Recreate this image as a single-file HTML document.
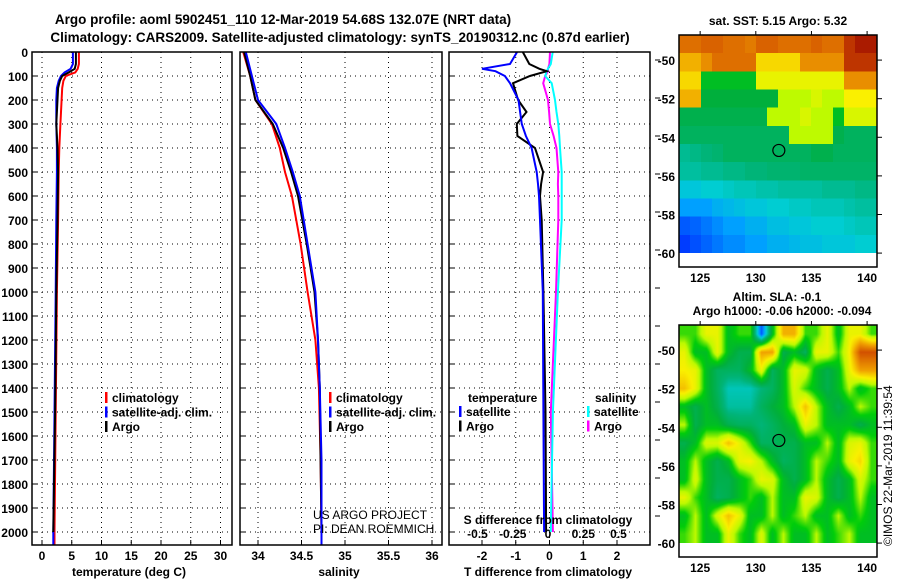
<!DOCTYPE html>
<html><head><meta charset="utf-8">
<style>
body{margin:0;background:#fff;width:900px;height:580px;overflow:hidden;position:relative;font-family:"Liberation Sans",sans-serif}
svg{position:absolute;left:0;top:0}
canvas{position:absolute}
</style></head>
<body>
<canvas id="sst" width="18" height="12" style="left:679px;top:35px;width:198px;height:218px;image-rendering:pixelated"></canvas>
<canvas id="sla" width="198" height="218" style="left:679px;top:325px;width:198px;height:218px"></canvas>
<svg id="chart" width="900" height="580"></svg>
<script>
// ---- data ----
const tempDepths=[0,50,70,85,100,120,150,200,300,400,500,700,1000,1500,2000,2054];
const tempClim=[6.2,6.2,6.0,5.6,4.0,3.6,3.4,3.3,3.1,2.9,2.8,2.7,2.5,2.3,2.1,2.1];
const tempSat=[5.2,5.2,4.8,3.8,3.2,2.8,2.5,2.4,2.4,2.5,2.5,2.4,2.3,2.1,1.9,1.9];
const tempArgo=[5.7,5.7,5.5,4.5,3.4,3.0,2.7,2.6,2.4,2.6,2.7,2.6,2.4,2.2,1.9];
const salDepths=[0,100,200,300,400,500,600,800,1000,1200,1400,1700,2000,2054];
const salClim=[33.83,33.91,33.97,34.16,34.25,34.31,34.39,34.49,34.57,34.66,34.70,34.72,34.73,34.73];
const salSat=[33.86,33.93,34.0,34.21,34.31,34.40,34.48,34.57,34.66,34.69,34.71,34.73,34.73,34.73];
const salArgo=[33.84,33.91,33.97,34.17,34.29,34.38,34.46,34.56,34.65,34.69,34.71,34.72,34.73];
const diffDepths=[0,50,70,80,100,130,200,250,300,350,400,500,550,600,700,1000,1500,2000];
const dTArgo=[-0.79,-0.6,-0.3,-0.08,-0.58,-1.08,-0.93,-0.68,-0.97,-0.95,-0.43,-0.19,-0.25,-0.28,-0.23,-0.18,-0.12,-0.1];
const dTSat=[-0.96,-1.17,-2.0,-1.6,-1.32,-1.17,-0.92,-0.87,-0.82,-0.7,-0.53,-0.38,-0.34,-0.31,-0.28,-0.2,-0.18,-0.16];
const dSSat=[0.033,0.02,0.0,-0.01,-0.02,0.026,0.05,0.06,0.073,0.08,0.085,0.097,0.097,0.097,0.097,0.07,0.035,0.02];
const dSArgo=[0.014,0.01,0.0,0.0,-0.02,-0.034,0.0,0.008,0.014,0.04,0.06,0.073,0.07,0.073,0.073,0.057,0.02,0.035];
const depthTicks=[0,100,200,300,400,500,600,700,800,900,1000,1100,1200,1300,1400,1500,1600,1700,1800,1900,2000];
const tempTicks=[0,5,10,15,20,25,30];
const salTicks=[34,34.5,35,35.5,36];
const dTTicks=[-2,-1,0,1,2];
const dSTicks=[-0.5,-0.25,0,0.25,0.5];
const latTicks=[-50,-52,-54,-56,-58,-60];
const lonTicks=[125,130,135,140];
const sstGrid=[
[.8,.8,.82,.82,.8,.8,.78,.82,.82,.8,.8,.8,.82,.8,.8,.9,.95,.95],
[.7,.7,.75,.8,.8,.8,.8,.65,.65,.65,.65,.75,.75,.75,.75,.9,.9,.9],
[.65,.65,.45,.45,.45,.45,.45,.6,.6,.6,.6,.6,.6,.6,.6,.75,.75,.75],
[.7,.7,.42,.42,.42,.42,.42,.42,.42,.55,.55,.55,.58,.55,.55,.62,.62,.62],
[.4,.4,.4,.4,.4,.4,.4,.4,.55,.55,.55,.58,.55,.55,.45,.58,.58,.58],
[.38,.38,.38,.38,.38,.38,.38,.38,.38,.38,.55,.55,.55,.55,.4,.38,.38,.38],
[.33,.34,.35,.36,.38,.38,.38,.38,.38,.38,.38,.38,.4,.4,.38,.38,.38,.38],
[.32,.32,.33,.33,.34,.34,.35,.35,.36,.36,.36,.37,.37,.37,.37,.37,.37,.37],
[.27,.27,.28,.28,.29,.3,.3,.31,.31,.32,.32,.32,.32,.33,.33,.33,.34,.34],
[.22,.22,.22,.24,.25,.26,.27,.27,.28,.28,.29,.29,.3,.3,.3,.31,.32,.32],
[.15,.16,.18,.2,.22,.22,.24,.24,.26,.26,.27,.27,.28,.28,.28,.29,.3,.3],
[.12,.14,.16,.18,.2,.2,.22,.22,.24,.24,.25,.26,.26,.27,.27,.27,.28,.28]];
const slaGrid=[
[.5,.5,.6,.6,.45,.5,.5,.15,.45,.7,.7,.5,.5,.6,.45,.6,.6,.5],
[.6,.45,.45,.6,.45,.4,.4,.72,.72,.4,.45,.38,.6,.6,.5,.62,.85,.85],
[.62,.6,.45,.38,.38,.38,.45,.6,.38,.45,.6,.58,.45,.4,.45,.6,.72,.72],
[.68,.6,.45,.38,.3,.3,.3,.35,.38,.45,.58,.5,.45,.4,.45,.55,.45,.5],
[.45,.4,.45,.4,.32,.32,.32,.38,.42,.45,.55,.68,.55,.45,.4,.45,.55,.5],
[.55,.4,.45,.45,.4,.38,.38,.35,.38,.42,.45,.6,.55,.45,.45,.45,.4,.45],
[.4,.45,.58,.58,.68,.6,.5,.38,.38,.4,.4,.45,.45,.55,.45,.58,.6,.5],
[.45,.55,.45,.4,.45,.6,.62,.55,.45,.38,.4,.45,.55,.5,.45,.6,.65,.5],
[.45,.58,.45,.4,.4,.45,.5,.6,.58,.45,.4,.45,.55,.45,.4,.45,.58,.5],
[.6,.5,.45,.38,.4,.45,.5,.45,.55,.45,.45,.6,.58,.45,.4,.45,.55,.45],
[.45,.55,.45,.58,.68,.6,.45,.45,.55,.45,.5,.55,.45,.45,.55,.45,.5,.45],
[.5,.55,.45,.45,.6,.5,.45,.58,.45,.55,.45,.45,.55,.45,.5,.55,.45,.45]];
const floatLon=132.07, floatLat=-54.68;

// ---- scales ----
const yD=d=>52+d*0.24;
const xT=t=>42+t*5.95;
const xS=s=>258+(s-34)*87;
const xDT=t=>549.5+t*33.75;
const xDS=s=>548+s*141;
const mapLon=l=>679+(l-123.1)*11.13;
const latTop=l=>35+(-48.7-l)*19.3;
const latBot=l=>325+(-48.7-l)*19.3;

const NS='http://www.w3.org/2000/svg';
const svg=document.getElementById('chart');
function mk(tag,attrs,parent){const e=document.createElementNS(NS,tag);for(const k in attrs)e.setAttribute(k,attrs[k]);(parent||svg).appendChild(e);return e;}
function txt(x,y,s,opts){const e=mk('text',Object.assign({x:x,y:y,'font-size':12,'font-weight':'bold','font-family':'Liberation Sans, sans-serif'},opts||{}));e.textContent=s;return e;}

let t=txt(283,24,'Argo profile: aoml 5902451_110 12-Mar-2019 54.68S 132.07E (NRT data)',{'text-anchor':'middle','font-size':13.5});


t=txt(340,42,'Climatology: CARS2009. Satellite-adjusted climatology: synTS_20190312.nc (0.87d earlier)',{'text-anchor':'middle','font-size':13.5});



const panels=[{x0:32,x1:232,name:'temperature'},{x0:240,x1:442,name:'salinity'},{x0:449,x1:650,name:'difference'}];
panels.forEach(p=>{
  const g=mk('g',{});
  
  
  depthTicks.forEach(d=>{mk('line',{x1:p.x0,x2:p.x1,y1:yD(d),y2:yD(d),stroke:'#000','stroke-dasharray':'1,4','stroke-width':1},g);
    mk('line',{x1:p.x0,x2:p.x0+5,y1:yD(d),y2:yD(d),stroke:'#000'},g);});
  p.g=g;
});
function vgrid(g,x,y0,y1){mk('line',{x1:x,x2:x,y1:y0,y2:y1,stroke:'#000','stroke-dasharray':'1,4'},g);mk('line',{x1:x,x2:x,y1:545,y2:540,stroke:'#000'},g);}
tempTicks.forEach(v=>{vgrid(panels[0].g,xT(v),52,545);const e=txt(xT(v),560,String(v),{'text-anchor':'middle'});});
salTicks.forEach(v=>{vgrid(panels[1].g,xS(v),52,545);const e=txt(xS(v),560,String(v),{'text-anchor':'middle'});});
dTTicks.forEach(v=>{vgrid(panels[2].g,xDT(v),52,545);const e=txt(xDT(v),560,String(v),{'text-anchor':'middle'});});
dSTicks.forEach(v=>{const e=txt(xDS(v),538,'',{'text-anchor':'middle'});e.textContent=(v===0?'0':(v<0?'-':'')+'0.'+String(Math.abs(v)).split('.')[1]);});
depthTicks.forEach(d=>{const e=txt(28,yD(d)+5,String(d),{'text-anchor':'end'});});
for(let y=60;y<545;y+=38){mk('line',{x1:655,x2:660,y1:y,y2:y,stroke:'#000'});}

function series(xs,ds,xf,color,name,w){
  const pts=xs.map((v,i)=>xf(v).toFixed(1)+','+yD(ds[i]).toFixed(1)).join(' ');
  const e=mk('polyline',{points:pts,fill:'none',stroke:color,'stroke-width':w||2});
  
  
}
series(tempClim,tempDepths,xT,'#f00','temp-climatology-line');
series(tempSat,tempDepths,xT,'#00f','temp-satellite-line');
series(tempArgo,tempDepths,xT,'#000','temp-argo-line');
series(salClim,salDepths,xS,'#f00','sal-climatology-line');
series(salArgo,salDepths,xS,'#000','sal-argo-line');
series(salSat,salDepths,xS,'#00f','sal-satellite-line');
series(dSArgo,diffDepths,xDS,'#f0f','ds-argo-line');
series(dSSat,diffDepths,xDS,'#0ff','ds-satellite-line');
series(dTArgo,diffDepths,xDT,'#000','dt-argo-line');
series(dTSat,diffDepths,xDT,'#00f','dt-satellite-line');

panels.forEach(p=>{const r=mk('rect',{x:p.x0,y:52,width:p.x1-p.x0,height:493,fill:'none',stroke:'#000','stroke-width':1.5});});

function legend(x,y,items,name){const g=mk('g',{});
  items.forEach((it,i)=>{mk('rect',{x:x,y:y+i*14.5-10,width:2.5,height:11,fill:it[0]},g);const e=txt(x+7,y+i*14.5,it[1]);g.appendChild(e);});}
legend(105,402,[['#f00','climatology'],['#00f','satellite-adj. clim.'],['#000','Argo']],'temp-legend');
legend(329,402,[['#f00','climatology'],['#00f','satellite-adj. clim.'],['#000','Argo']],'sal-legend');
let l1=txt(468,402,'temperature');
legend(459,416,[['#00f','satellite'],['#000','Argo']],'dt-legend');
let l2=txt(595,402,'salinity');
legend(587,416,[['#0ff','satellite'],['#f0f','Argo']],'ds-legend');
t=txt(313,519,'US ARGO PROJECT',{'font-weight':'normal'});
t=txt(313,533,'PI: DEAN ROEMMICH',{'font-weight':'normal'});
t=txt(548,524,'S difference from climatology',{'text-anchor':'middle'});
t=txt(129,576,'temperature (deg C)',{'text-anchor':'middle'});
t=txt(339,576,'salinity',{'text-anchor':'middle'});
t=txt(548,576,'T difference from climatology',{'text-anchor':'middle'});

// ---- maps ----
const stops=[[0,[0,0,140]],[.12,[0,60,255]],[.22,[0,160,255]],[.28,[0,205,210]],[.35,[0,180,120]],[.42,[0,175,60]],[.48,[0,205,10]],[.55,[190,250,0]],[.62,[250,240,0]],[.72,[240,160,0]],[.85,[210,80,0]],[1,[150,0,0]]];
function cmap(v){for(let i=1;i<stops.length;i++){if(v<=stops[i][0]){const a=stops[i-1],b=stops[i],f=(v-a[0])/(b[0]-a[0]);return a[1].map((c,k)=>Math.round(c+(b[1][k]-c)*f));}}return stops[stops.length-1][1];}
function paint(id,grid){const c=document.getElementById(id),ctx=c.getContext('2d'),img=ctx.createImageData(18,12);
  grid.forEach((row,r)=>row.forEach((v,cI)=>{const col=cmap(v),o=(r*18+cI)*4;img.data[o]=col[0];img.data[o+1]=col[1];img.data[o+2]=col[2];img.data[o+3]=255;}));ctx.putImageData(img,0,0);}
paint('sst',sstGrid);
function paintSmooth(id,grid){const c=document.getElementById(id),W=c.width,H=c.height,ctx=c.getContext('2d'),img=ctx.createImageData(W,H);
  const R=grid.length,C=grid[0].length;
  for(let y=0;y<H;y++){const fy=Math.min(Math.max((y+0.5)/H*R-0.5,0),R-1),y0=Math.floor(fy),y1=Math.min(y0+1,R-1),ty=fy-y0;
    for(let x=0;x<W;x++){const fx=Math.min(Math.max((x+0.5)/W*C-0.5,0),C-1),x0=Math.floor(fx),x1=Math.min(x0+1,C-1),tx=fx-x0;
      const v=(grid[y0][x0]*(1-tx)+grid[y0][x1]*tx)*(1-ty)+(grid[y1][x0]*(1-tx)+grid[y1][x1]*tx)*ty;
      const q=Math.floor(x/4)*4,qy=Math.floor(y/4)*4;
      const col=cmap(v),o=(y*W+x)*4;img.data[o]=col[0];img.data[o+1]=col[1];img.data[o+2]=col[2];img.data[o+3]=255;}}
  ctx.putImageData(img,0,0);}
paintSmooth('sla',slaGrid);

function mapFrame(top,latf,name){
  const g=mk('g',{});
  mk('rect',{x:679,y:top,width:198,height:232,fill:'none',stroke:'#000','stroke-width':1.5},g);
  latTicks.forEach(l=>{mk('line',{x1:877,x2:882,y1:latf(l),y2:latf(l),stroke:'#000'},g);const e=txt(675,latf(l)+5,String(l),{'text-anchor':'end'});g.appendChild(e);});
  lonTicks.forEach(l=>{mk('line',{x1:mapLon(l),x2:mapLon(l),y1:top,y2:top-4,stroke:'#000'},g);const e=txt(mapLon(l),top+247,String(l),{'text-anchor':'middle'});g.appendChild(e);});
  const c=mk('circle',{cx:mapLon(floatLon),cy:latf(floatLat),r:6,fill:'none',stroke:'#000','stroke-width':1.2},g);
  
}
mapFrame(35,latTop,'sst-map-frame');
mapFrame(325,latBot,'sla-map-frame');
t=txt(778,25,'sat. SST: 5.15 Argo: 5.32',{'text-anchor':'middle'});
t=txt(777,301,'Altim. SLA: -0.1',{'text-anchor':'middle'});
t=txt(782,315,'Argo h1000: -0.06 h2000: -0.094',{'text-anchor':'middle'});
t=txt(0,0,'©IMOS 22-Mar-2019 11:39:54',{'font-weight':'normal','transform':'translate(892,546) rotate(-90)'});
</script>
</body></html>
